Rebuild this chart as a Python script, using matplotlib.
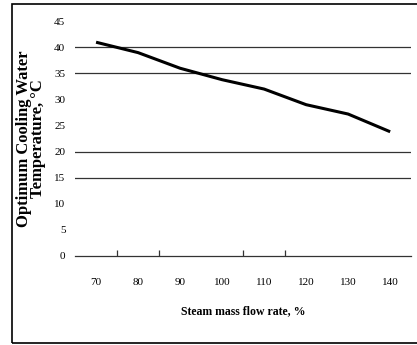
import matplotlib.pyplot as plt
from matplotlib.patches import Rectangle

# steam mass flow rate (%) and optimum cooling water temperature (deg C)
flow_rate = ["70", "80", "90", "100", "110", "120", "130", "140"]
cooling_temp = [41.0, 39.0, 36.0, 33.8, 32.0, 29.0, 27.2, 23.8]

y_ticks = [0, 5, 10, 15, 20, 25, 30, 35, 40, 45]
grid_levels = [15, 20, 35, 40]
x_marks = [0.5, 1.5, 3.5, 4.5]

plt.rcParams["font.family"] = "Liberation Serif"

fig = plt.figure(figsize=(4.17, 3.45), dpi=100)
ax = fig.add_axes([0.180, 0.259, 0.806, 0.679])

x = list(range(len(flow_rate)))
ax.plot(x, cooling_temp, color="black", lw=2.2, solid_capstyle="butt")

for level in grid_levels:
    ax.axhline(level, color="#333333", lw=0.9, zorder=0)

ax.set_xlim(-0.5, len(flow_rate) - 0.5)
ax.set_ylim(0, 45)
ax.set_yticks(y_ticks)
ax.set_yticklabels([str(v) for v in y_ticks], fontsize=8)
ax.set_xticks(x)
ax.set_xticklabels(flow_rate, fontsize=8)
ax.tick_params(axis="x", which="major", length=0, pad=16)
ax.tick_params(axis="y", length=0, pad=7)
ax.set_xticks(x_marks, minor=True)
ax.tick_params(axis="x", which="minor", direction="in", length=4, width=0.9, color="#333333")

for side in ["top", "right", "left"]:
    ax.spines[side].set_visible(False)
ax.spines["bottom"].set_color("#333333")
ax.spines["bottom"].set_linewidth(0.9)

ax.set_xlabel("Steam mass flow rate, %", fontsize=8.5, fontweight="bold", labelpad=13)
ax.set_ylabel("Optimum Cooling Water\nTemperature, °C", fontsize=12, fontweight="bold",
              labelpad=6, linespacing=0.85)

fig.patches.append(Rectangle((0.029, 0.006), 1.1, 0.982, transform=fig.transFigure,
                             fill=False, edgecolor="black", lw=1.2))

fig.savefig("out.png", dpi=100)
